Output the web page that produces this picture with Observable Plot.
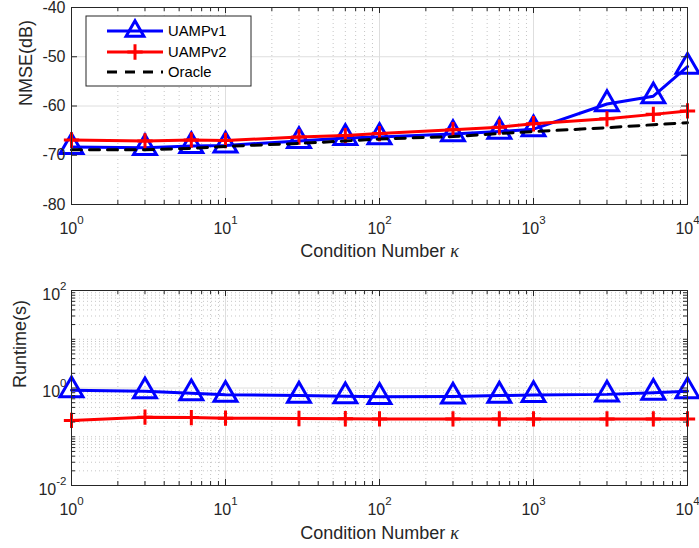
<!DOCTYPE html>
<html><head><meta charset="utf-8">
<script src="https://cdn.jsdelivr.net/npm/d3@7"></script>
<script src="https://cdn.jsdelivr.net/npm/@observablehq/plot@0.6"></script>
<style>
body{margin:0;background:#fff;}
#chart{position:relative;width:699px;height:548px;font-family:"Liberation Sans",Arial,Helvetica,sans-serif;}
#chart svg{display:block;}
</style></head><body><div id="chart"></div>
<script>
// ---- data ----
const kappa = [1, 3, 6, 10, 30, 60, 100, 300, 600, 1000, 3000, 6000, 10000];
const nmseUAMPv1 = [-68.3, -68.5, -68.1, -68.0, -67.1, -66.5, -66.3, -65.7, -65.2, -64.7, -59.6, -58.0, -52.0];
const nmseUAMPv2 = [-66.9, -67.1, -66.9, -67.0, -66.3, -66.0, -65.6, -64.8, -64.3, -63.6, -62.6, -61.7, -61.0];
const nmseOracle = [-68.9, -68.9, -68.6, -68.2, -67.6, -67.1, -66.7, -66.2, -65.6, -65.2, -64.4, -63.8, -63.4];
const runtimeUAMPv1 = [0.90, 0.86, 0.78, 0.73, 0.70, 0.68, 0.66, 0.67, 0.70, 0.72, 0.74, 0.80, 0.86];
const runtimeUAMPv2 = [0.216, 0.252, 0.247, 0.240, 0.237, 0.234, 0.232, 0.232, 0.232, 0.232, 0.232, 0.232, 0.232];
const seriesNames = ["UAMPv1", "UAMPv2", "Oracle"];
const xTickValues = [1, 10, 100, 1000, 10000];
const nmseTickValues = [-80, -70, -60, -50, -40];
const runtimeTickValues = [0.01, 1, 100];
const xLabel = "Condition Number κ";
const nmseLabel = "NMSE(dB)";
const runtimeLabel = "Runtime(s)";

function minorLog(lo, hi) {
  const out = [];
  for (let k = lo; k < hi; k++) for (let m = 2; m <= 9; m++) out.push(+(m * Math.pow(10, k)).toPrecision(3));
  return out;
}
const xMinor = minorLog(0, 4);
const runtimeMinor = minorLog(-2, 2).concat([0.1, 10]);

// ---- style ----
const W = 699, ML = 71, MR = 12, innerW = W - ML - MR;
const axisColor = "#262626", gridMajor = "#dedede", gridMinor = "#c6c6c6";
const blue = "#0000ff", red = "#ff0000";
const font = '"Liberation Sans", Arial, Helvetica, sans-serif';
const majLen = 6, minLen = 4;

const nmseRows = kappa.map((k, i) => ({k, v1: nmseUAMPv1[i], v2: nmseUAMPv2[i], or: nmseOracle[i]}));
const runRows = kappa.map((k, i) => ({k, v1: runtimeUAMPv1[i], v2: runtimeUAMPv2[i]}));
const expFmt = d => "10^" + Math.round(Math.log10(d));

function tickMarks(innerH, yMajor, yMinor) {
  const m = [
    Plot.ruleX(xTickValues, {stroke: axisColor, insetTop: innerH - majLen}),
    Plot.ruleX(xTickValues, {stroke: axisColor, insetBottom: innerH - majLen}),
    Plot.ruleX(xMinor, {stroke: axisColor, insetTop: innerH - minLen}),
    Plot.ruleX(xMinor, {stroke: axisColor, insetBottom: innerH - minLen}),
    Plot.ruleY(yMajor, {stroke: axisColor, insetRight: innerW - majLen}),
    Plot.ruleY(yMajor, {stroke: axisColor, insetLeft: innerW - majLen})
  ];
  if (yMinor) {
    m.push(Plot.ruleY(yMinor, {stroke: axisColor, insetRight: innerW - minLen}));
    m.push(Plot.ruleY(yMinor, {stroke: axisColor, insetLeft: innerW - minLen}));
  }
  return m;
}

// ---- top plot ----
const topH = 270, topMT = 7, topMB = 66, topInner = topH - topMT - topMB;
const topPlot = Plot.plot({
  width: W, height: topH, marginLeft: ML, marginRight: MR, marginTop: topMT, marginBottom: topMB,
  style: {fontFamily: font, fontSize: "16px", color: axisColor, background: "white", overflow: "visible"},
  x: {type: "log", domain: [1, 10000]},
  y: {domain: [-80, -40]},
  marks: [
    Plot.ruleX(xMinor, {stroke: gridMinor, strokeDasharray: "1,3"}),
    Plot.ruleX(xTickValues, {stroke: gridMajor}),
    Plot.ruleY(nmseTickValues, {stroke: gridMajor}),
    Plot.line(nmseRows, {x: "k", y: "v1", stroke: blue, strokeWidth: 3}),
    Plot.dot(nmseRows, {x: "k", y: "v1", symbol: "triangle", r: 8.5, stroke: blue, strokeWidth: 3, fill: "none"}),
    Plot.line(nmseRows, {x: "k", y: "v2", stroke: red, strokeWidth: 3}),
    Plot.dot(nmseRows, {x: "k", y: "v2", symbol: "plus", r: 5, stroke: red, strokeWidth: 3}),
    Plot.line(nmseRows, {x: "k", y: "or", stroke: "#000", strokeWidth: 3, strokeDasharray: "10,8"}),
    ...tickMarks(topInner, nmseTickValues, null),
    Plot.frame({stroke: axisColor}),
    Plot.axisX(xTickValues, {tickSize: 0, tickPadding: 18, tickFormat: expFmt, label: null, fontSize: 16}),
    Plot.axisY(nmseTickValues, {tickSize: 0, tickPadding: 6, tickFormat: d => String(d), label: null, fontSize: 16}),
    Plot.text([xLabel], {text: d => d, frameAnchor: "bottom", dy: 52, lineAnchor: "bottom", fontSize: 18}),
    Plot.text([nmseLabel], {text: d => d, frameAnchor: "left", dx: -45, rotate: -90, fontSize: 18})
  ]
});

// ---- bottom plot ----
const botH = 278, botMT = 20, botMB = 63, botInner = botH - botMT - botMB;
const bottomPlot = Plot.plot({
  width: W, height: botH, marginLeft: ML, marginRight: MR, marginTop: botMT, marginBottom: botMB,
  style: {fontFamily: font, fontSize: "16px", color: axisColor, background: "white", overflow: "visible"},
  x: {type: "log", domain: [1, 10000]},
  y: {type: "log", domain: [0.01, 100]},
  marks: [
    Plot.ruleX(xMinor, {stroke: gridMinor, strokeDasharray: "1,3"}),
    Plot.ruleY(runtimeMinor, {stroke: gridMinor, strokeDasharray: "1,3"}),
    Plot.ruleX(xTickValues, {stroke: gridMajor}),
    Plot.ruleY(runtimeTickValues, {stroke: gridMajor}),
    Plot.line(runRows, {x: "k", y: "v1", stroke: blue, strokeWidth: 3}),
    Plot.dot(runRows, {x: "k", y: "v1", symbol: "triangle", r: 8.5, stroke: blue, strokeWidth: 3, fill: "none"}),
    Plot.line(runRows, {x: "k", y: "v2", stroke: red, strokeWidth: 3}),
    Plot.dot(runRows, {x: "k", y: "v2", symbol: "plus", r: 5, stroke: red, strokeWidth: 3}),
    ...tickMarks(botInner, runtimeTickValues, runtimeMinor),
    Plot.frame({stroke: axisColor}),
    Plot.axisX(xTickValues, {tickSize: 0, tickPadding: 18, tickFormat: expFmt, label: null, fontSize: 16}),
    Plot.axisY(runtimeTickValues, {tickSize: 0, tickPadding: 5, dy: 4, tickFormat: expFmt, label: null, fontSize: 16}),
    Plot.text([xLabel], {text: d => d, frameAnchor: "bottom", dy: 53, lineAnchor: "bottom", fontSize: 18}),
    Plot.text([runtimeLabel], {text: d => d, frameAnchor: "left", dx: -51, rotate: -90, fontSize: 18})
  ]
});

function decorate(svg) {
  d3.select(svg).selectAll("text").each(function () {
    const t = this.textContent;
    const m = /^10\^(-?\d+)$/.exec(t);
    if (m) {
      this.textContent = "10";
      d3.select(this).append("tspan").attr("dy", -10).attr("font-size", 11.5).text(m[1]);
    } else if (t.indexOf("κ") >= 0) {
      const parts = t.split("κ");
      this.textContent = parts[0];
      d3.select(this).append("tspan").attr("font-style", "italic").attr("font-family", '"Liberation Serif", serif').text("κ");
    }
  });
}
decorate(topPlot);
decorate(bottomPlot);

const chart = document.getElementById("chart");
chart.appendChild(topPlot);
chart.appendChild(bottomPlot);

// ---- legend ----
const leg = d3.create("svg").attr("width", W).attr("height", 100)
  .style("position", "absolute").style("left", "0px").style("top", "0px").style("overflow", "visible")
  .attr("font-family", font);
leg.append("rect").attr("x", 86).attr("y", 16).attr("width", 165).attr("height", 70)
  .attr("fill", "white").attr("stroke", axisColor).attr("stroke-width", 1);
const legItems = [
  {name: seriesNames[0], color: blue, dash: null, sym: d3.symbolTriangle2, size: Math.PI * 72},
  {name: seriesNames[1], color: red, dash: null, sym: d3.symbolPlus, size: Math.PI * 25},
  {name: seriesNames[2], color: "#000", dash: "10,8", sym: null}
];
const rowY = [31, 52, 72];
legItems.forEach((it, i) => {
  const g = leg.append("g").attr("transform", `translate(0,${rowY[i]})`);
  g.append("line").attr("x1", 107).attr("x2", 163).attr("stroke", it.color).attr("stroke-width", 3)
    .attr("stroke-dasharray", it.dash);
  if (it.sym) g.append("path").attr("transform", "translate(135,0)").attr("d", d3.symbol(it.sym, it.size)())
    .attr("fill", "none").attr("stroke", it.color).attr("stroke-width", 3);
  g.append("text").attr("x", 168).attr("dy", "0.35em").attr("font-size", 14.8).attr("fill", "#000").text(it.name);
});
chart.appendChild(leg.node());
</script></body></html>
